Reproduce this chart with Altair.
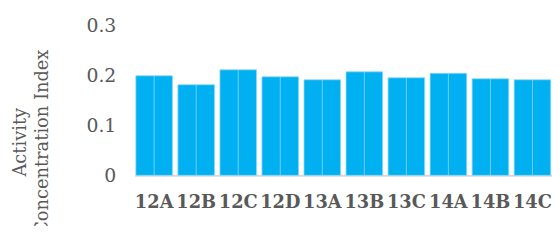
import altair as alt
import pandas as pd

categories = ["12A", "12B", "12C", "12D", "13A", "13B", "13C", "14A", "14B", "14C"]
values = [0.200, 0.182, 0.212, 0.198, 0.192, 0.208, 0.196, 0.205, 0.194, 0.192]

df = pd.DataFrame({"cat": categories, "val": values})

FONT = "DejaVu Serif"

x = alt.X("cat:N", sort=categories, title=None,
          scale=alt.Scale(paddingInner=0.13, paddingOuter=0.03),
          axis=alt.Axis(labelAngle=0, labelFont=FONT, labelFontSize=18,
                        labelFontWeight="bold", labelColor="#595959",
                        labelPadding=18, labelLimit=0, ticks=False,
                        domainColor="#d9d9d9", domainWidth=2))
y = alt.Y("val:Q", title=["Activity", "Concentration Index"],
          scale=alt.Scale(domain=[0, 0.3], nice=False),
          axis=alt.Axis(values=[0, 0.1, 0.2, 0.3], format="~g", grid=False,
                        ticks=False, domain=False, labelFont=FONT,
                        labelFontSize=19, labelColor="#595959", labelPadding=19,
                        titleFont=FONT, titleFontSize=18, titleFontWeight="normal",
                        titleColor="#595959", titleAngle=-90, titleAlign="center",
                        titleBaseline="top", titleLineHeight=22,
                        titleX=-124, titleY=117))

bars = alt.Chart(df).mark_bar(color="#00B0F0", stroke="#8ad8f6", strokeWidth=0.8).encode(x=x, y=y)
mid = alt.Chart(df).mark_rule(color="#8ad8f6", strokeWidth=0.8).encode(
    x=alt.X("cat:N", sort=categories), y=alt.Y("val:Q"), y2=alt.datum(0))

chart = alt.layer(bars, mid).properties(
    width=422, height=151,
    autosize=alt.AutoSizeParams(type="none"),
    padding={"left": 128, "top": 17, "right": 0, "bottom": 50},
).configure_view(stroke=None)

chart.save("out.html", embed_options={"renderer": "svg", "actions": False})
